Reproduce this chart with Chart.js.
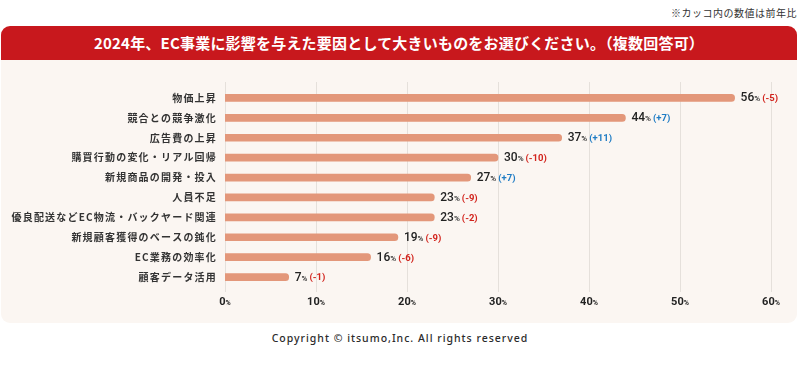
<!DOCTYPE html>
<html lang="ja">
<head>
<meta charset="utf-8">
<title>2024年、EC事業に影響を与えた要因</title>
<script src="https://cdn.jsdelivr.net/npm/chart.js@4.4.1/dist/chart.umd.min.js"></script>
<style>
  html,body{margin:0;padding:0;background:#fff;}
  body{width:800px;height:367px;position:relative;overflow:hidden;font-family:"Noto Sans CJK JP","Noto Sans",sans-serif;}
  #note{position:absolute;right:3px;top:5px;font-size:10px;color:#333;letter-spacing:0.5px;}
  #panel{position:absolute;left:1px;top:26px;width:796px;height:297px;background:#fbf6f2;border-radius:9px;overflow:hidden;}
  #head{height:34px;background:#c8181d;color:#fff;font-weight:700;font-size:15px;line-height:34px;text-align:center;letter-spacing:0.2px;}
  #wrap{position:absolute;left:0;top:60px;width:800px;height:263px;}
  #copy{position:absolute;left:0;width:800px;top:331px;text-align:center;font-family:"Noto Sans",sans-serif;font-weight:500;font-size:10.5px;color:#2a2a2a;letter-spacing:1px;}
</style>
</head>
<body>
<div id="note">※カッコ内の数値は前年比</div>
<div id="panel"><div id="head">2024年、EC事業に影響を与えた要因として大きいものをお選びください。（複数回答可）</div></div>
<div id="wrap"><canvas id="chart"></canvas></div>
<div id="copy">Copyright © itsumo,Inc. All rights reserved</div>
<script>
// data
const categories = ['物価上昇','競合との競争激化','広告費の上昇','購買行動の変化・リアル回帰','新規商品の開発・投入','人員不足','優良配送などEC物流・バックヤード関連','新規顧客獲得のベースの鈍化','EC業務の効率化','顧客データ活用'];
const values = [56,44,37,30,27,23,23,19,16,7];
const changes = ['-5','+7','+11','-10','+7','-9','-2','-9','-6','-1'];
const xTicks = [0,10,20,30,40,50,60];

const BAR = '#e3977a';
const NUM_FONT = '"Roboto","DejaVu Sans",sans-serif';

// vertical grid lines, a bit taller than the plot area
const gridPlugin = {
  id:'gridLines',
  beforeDatasetsDraw(chart){
    const {ctx, chartArea:a, scales:{x}} = chart;
    ctx.save();
    ctx.strokeStyle = '#e5e0db';
    ctx.lineWidth = 1;
    xTicks.forEach(v=>{
      const px = Math.round(x.getPixelForValue(v)) + 0.5;
      ctx.beginPath(); ctx.moveTo(px, a.top-6); ctx.lineTo(px, a.bottom+5); ctx.stroke();
    });
    ctx.restore();
  }
};

// x tick labels with a small "%"
const tickPlugin = {
  id:'tickLabels',
  afterDraw(chart){
    const {ctx, chartArea:a, scales:{x}} = chart;
    ctx.save();
    ctx.fillStyle = '#222';
    ctx.textBaseline = 'middle';
    xTicks.forEach(v=>{
      const px = x.getPixelForValue(v);
      ctx.font = 'bold 11px '+NUM_FONT;
      const t1 = String(v), w1 = ctx.measureText(t1).width;
      ctx.font = 'bold 7px '+NUM_FONT;
      const w2 = ctx.measureText('%').width;
      const sx = px - (w1+w2)/2;
      ctx.font = 'bold 11px '+NUM_FONT;
      ctx.fillText(t1, sx, a.bottom+15);
      ctx.font = 'bold 7px '+NUM_FONT;
      ctx.fillText('%', sx+w1, a.bottom+16);
    });
    ctx.restore();
  }
};

// value + change labels at bar ends
const valuePlugin = {
  id:'valueLabels',
  afterDatasetsDraw(chart){
    const {ctx} = chart;
    const meta = chart.getDatasetMeta(0);
    ctx.save();
    ctx.textBaseline = 'middle';
    meta.data.forEach((bar,i)=>{
      let px = bar.x + 6;
      const py = bar.y + 0.5;
      ctx.fillStyle = '#222';
      ctx.font = '500 12px '+NUM_FONT;
      const t = String(values[i]);
      ctx.fillText(t, px, py); px += ctx.measureText(t).width;
      ctx.font = '500 8px '+NUM_FONT;
      ctx.fillText('%', px, py+1); px += ctx.measureText('%').width + 2;
      const c = changes[i];
      ctx.fillStyle = c.startsWith('+') ? '#1f7cc4' : '#d2241d';
      ctx.font = 'bold 9.5px '+NUM_FONT;
      ctx.fillText('('+c+')', px, py+0.5);
    });
    ctx.restore();
  }
};

// wider letter spacing for the category labels
const spacingPlugin = {
  id:'spacing',
  beforeDraw(chart){ chart.ctx.letterSpacing = '1.2px'; },
  beforeDatasetsDraw(chart){ chart.ctx.letterSpacing = '0px'; }
};

new Chart(document.getElementById('chart'), {
  type:'bar',
  data:{
    labels:categories,
    datasets:[{data:values, backgroundColor:BAR, barThickness:7, borderRadius:4, borderSkipped:'start'}]
  },
  options:{
    indexAxis:'y',
    responsive:true,
    maintainAspectRatio:false,
    animation:false,
    layout:{padding:{top:28,right:29,left:0,bottom:0}},
    plugins:{legend:{display:false}, tooltip:{enabled:false}},
    scales:{
      x:{
        min:0, max:60,
        grid:{display:false, drawTicks:false},
        border:{display:false},
        ticks:{display:false, stepSize:10},
        afterFit(s){ s.height = 36; }
      },
      y:{
        grid:{display:false, drawTicks:false},
        border:{display:false},
        ticks:{color:'#333', padding:8, font:{family:'"Noto Sans CJK JP",sans-serif', size:10, weight:'bold'}},
        afterFit(s){ s.width = 225; }
      }
    }
  },
  plugins:[spacingPlugin, gridPlugin, valuePlugin, tickPlugin]
});
</script>
</body>
</html>
